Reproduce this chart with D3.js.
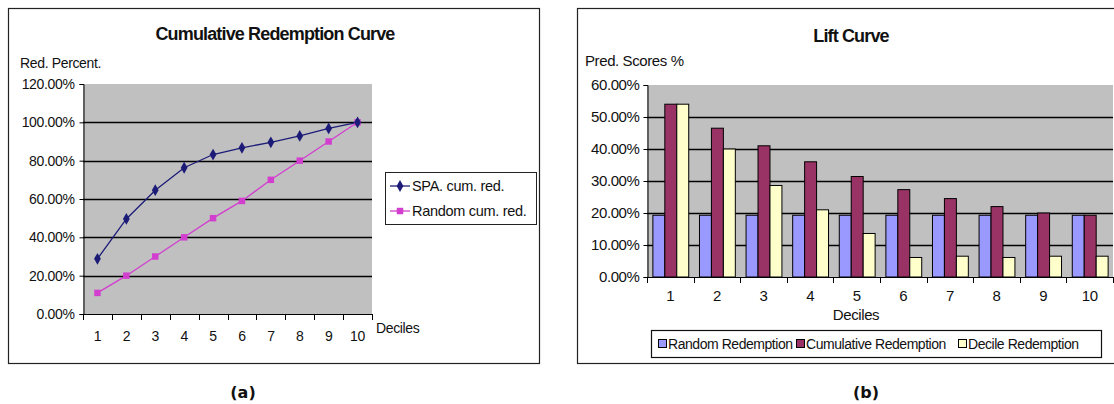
<!DOCTYPE html>
<html>
<head>
<meta charset="utf-8">
<script src="https://cdn.jsdelivr.net/npm/d3@7"></script>
<style>
  html, body { margin: 0; padding: 0; background: #fff; }
  svg { display: block; font-family: "Liberation Sans", Arial, sans-serif; }
  .lbl { font-size: 14px; fill: #111; letter-spacing: -0.35px; }
  .lblb { font-size: 15px; fill: #111; letter-spacing: -0.4px; }
  .leg { font-size: 14px; fill: #111; letter-spacing: -0.45px; }
  .lega { font-size: 14.5px; fill: #111; letter-spacing: -0.3px; }
  .ttl { font-size: 18px; font-weight: bold; fill: #111; letter-spacing: -0.85px; }
  .cap { font-size: 16px; font-weight: bold; fill: #111; font-family: "DejaVu Sans", sans-serif; }
</style>
</head>
<body>
<svg id="chart" width="1114" height="404"></svg>
<script>
// Deciles shared by both panels
const deciles = [1, 2, 3, 4, 5, 6, 7, 8, 9, 10];

// (a) Cumulative redemption, percent
const spaCum    = [28.8, 49.6, 64.6, 76.3, 83.2, 86.7, 89.6, 92.9, 96.8, 100];
const randomCum = [11, 20, 30, 40, 50, 59, 70, 80, 90, 100];
const cumTicks  = [0, 20, 40, 60, 80, 100, 120];

// (b) Lift curve, percent
const randomRedemption     = [19.3, 19.3, 19.3, 19.3, 19.3, 19.3, 19.3, 19.3, 19.3, 19.3];
const cumulativeRedemption = [54.0, 46.5, 41.0, 36.0, 31.4, 27.3, 24.5, 22.0, 20.0, 19.3];
const decileRedemption     = [54.0, 40.0, 28.6, 21.0, 13.6, 6.1, 6.5, 6.1, 6.5, 6.5];
const liftTicks = [0, 10, 20, 30, 40, 50, 60];
const liftSeries = ["Random Redemption", "Cumulative Redemption", "Decile Redemption"];

const svg = d3.select("#chart");
const pct = d => d3.format(".2f")(d) + "%";

// ---------- Panel (a) ----------
{
  const g = svg.append("g");
  g.append("rect").attr("x", 8.5).attr("y", 8.5).attr("width", 531).attr("height", 355)
    .attr("fill", "#fff").attr("stroke", "#222").attr("stroke-width", 1.2);

  const x = d3.scaleBand().domain(deciles).range([83, 372]);
  const y = d3.scaleLinear().domain([0, 120]).range([314, 84]);
  const cx = d => x(d) + x.bandwidth() / 2;

  g.append("rect").attr("x", 83).attr("y", 84).attr("width", 289).attr("height", 230)
    .attr("fill", "#c0c0c0");

  // gridlines
  g.selectAll(".grid").data(cumTicks.filter(t => t > 0 && t < 120)).join("line")
    .attr("x1", 83).attr("x2", 372).attr("y1", d => Math.round(y(d)) + 0.5).attr("y2", d => Math.round(y(d)) + 0.5)
    .attr("stroke", "#000").attr("stroke-width", 1.3);

  // y axis
  const ya = g.append("g").attr("transform", "translate(83.5,0)")
    .call(d3.axisLeft(y).tickValues(cumTicks).tickFormat(pct).tickSize(4).tickPadding(5));
  ya.select(".domain").attr("stroke", "#000");
  ya.selectAll("text").attr("class", "lbl").attr("font-family", null).attr("font-size", null);

  // x axis: boundary ticks and centred labels
  const xa = g.append("g").attr("transform", "translate(0,314.5)")
    .call(d3.axisBottom(x).tickSize(0).tickPadding(17));
  xa.select(".domain").attr("stroke", "#000").attr("d", "M83,0H372");
  xa.selectAll("text").attr("class", "lbl").attr("font-family", null).attr("font-size", null);
  const bounds = deciles.map(d => x(d)).concat([x(10) + x.bandwidth()]);
  g.selectAll(".xt").data(bounds).join("line")
    .attr("x1", d => Math.round(d) + 0.5).attr("x2", d => Math.round(d) + 0.5)
    .attr("y1", 314).attr("y2", 320).attr("stroke", "#000");

  const line = d3.line().x((d, i) => cx(deciles[i])).y(d => y(d));
  g.append("path").datum(randomCum).attr("d", line).attr("fill", "none")
    .attr("stroke", "#d23fcf").attr("stroke-width", 1.3);
  g.append("path").datum(spaCum).attr("d", line).attr("fill", "none")
    .attr("stroke", "#1c1c78").attr("stroke-width", 1.3);

  const sq = d3.symbol().type(d3.symbolSquare).size(42);
  const dm = d3.symbol().type(d3.symbolDiamond).size(40);
  g.selectAll(".rm").data(randomCum).join("path")
    .attr("transform", (d, i) => `translate(${cx(deciles[i])},${y(d)})`)
    .attr("d", sq).attr("fill", "#d23fcf");
  g.selectAll(".sm").data(spaCum).join("path")
    .attr("transform", (d, i) => `translate(${cx(deciles[i])},${y(d)})`)
    .attr("d", dm).attr("fill", "#1c1c78");

  g.append("text").attr("class", "ttl").attr("x", 275).attr("y", 40).attr("text-anchor", "middle")
    .text("Cumulative Redemption Curve");
  g.append("text").attr("class", "lbl").attr("x", 20).attr("y", 68).text("Red. Percent.");
  g.append("text").attr("class", "lbl").attr("x", 376).attr("y", 333).text("Deciles");

  // legend
  const lg = g.append("g");
  lg.append("rect").attr("x", 385.5).attr("y", 172.5).attr("width", 151).attr("height", 52)
    .attr("fill", "#fff").attr("stroke", "#222");
  [["SPA. cum. red.", "#1c1c78", dm, 186], ["Random cum. red.", "#d23fcf", sq, 211]].forEach(([t, c, s, yy]) => {
    lg.append("line").attr("x1", 390).attr("x2", 410).attr("y1", yy).attr("y2", yy).attr("stroke", c).attr("stroke-width", 1.3);
    lg.append("path").attr("transform", `translate(400,${yy})`).attr("d", s).attr("fill", c);
    lg.append("text").attr("class", "lega").attr("x", 412).attr("y", yy + 5).text(t);
  });

  svg.append("text").attr("class", "cap").attr("x", 243).attr("y", 398).attr("text-anchor", "middle").text("(a)");
}

// ---------- Panel (b) ----------
{
  const g = svg.append("g");
  g.append("rect").attr("x", 577.5).attr("y", 8.5).attr("width", 560).attr("height", 355)
    .attr("fill", "#fff").attr("stroke", "#222").attr("stroke-width", 1.2);

  const x = d3.scaleBand().domain(deciles).range([647, 1113]);
  const y = d3.scaleLinear().domain([0, 60]).range([277, 85]);
  const xs = d3.scaleBand().domain(liftSeries).range([0, x.bandwidth()]).paddingOuter(0.45).paddingInner(0);
  const colors = { "Random Redemption": "#9999ff", "Cumulative Redemption": "#993366", "Decile Redemption": "#ffffcc" };

  g.append("rect").attr("x", 647).attr("y", 85).attr("width", 466).attr("height", 192).attr("fill", "#c0c0c0");

  g.selectAll(".grid").data(liftTicks.filter(t => t > 0 && t < 60)).join("line")
    .attr("x1", 647).attr("x2", 1113).attr("y1", d => Math.round(y(d)) + 0.5).attr("y2", d => Math.round(y(d)) + 0.5)
    .attr("stroke", "#000").attr("stroke-width", 1.3);

  const rows = deciles.map((d, i) => ({
    decile: d,
    values: [randomRedemption[i], cumulativeRedemption[i], decileRedemption[i]]
  }));
  g.selectAll(".grp").data(rows).join("g")
    .attr("transform", d => `translate(${x(d.decile)},0)`)
    .selectAll("rect").data(d => d.values.map((v, k) => ({ s: liftSeries[k], v })))
    .join("rect")
    .attr("x", d => xs(d.s) + 0.5).attr("width", xs.bandwidth())
    .attr("y", d => y(d.v)).attr("height", d => y(0) - y(d.v))
    .attr("fill", d => colors[d.s]).attr("stroke", "#000").attr("stroke-width", 1);

  const ya = g.append("g").attr("transform", "translate(647.5,0)")
    .call(d3.axisLeft(y).tickValues(liftTicks).tickFormat(pct).tickSize(4).tickPadding(4));
  ya.select(".domain").attr("stroke", "#000");
  ya.selectAll("text").attr("class", "lblb").attr("font-family", null).attr("font-size", null);

  const xa = g.append("g").attr("transform", "translate(0,277.5)")
    .call(d3.axisBottom(x).tickSize(0).tickPadding(13));
  xa.select(".domain").attr("stroke", "#000").attr("d", "M647,0H1113");
  xa.selectAll("text").attr("class", "lblb").attr("font-family", null).attr("font-size", null);
  const bounds = deciles.map(d => x(d)).concat([x(10) + x.bandwidth()]);
  g.selectAll(".xt").data(bounds).join("line")
    .attr("x1", d => Math.round(d) + 0.5).attr("x2", d => Math.round(d) + 0.5)
    .attr("y1", 277).attr("y2", 283).attr("stroke", "#000");

  g.append("text").attr("class", "ttl").attr("x", 851).attr("y", 42).attr("text-anchor", "middle").text("Lift Curve");
  g.append("text").attr("class", "lblb").attr("x", 856).attr("y", 320).attr("text-anchor", "middle").text("Deciles");
  g.append("text").attr("class", "lblb").attr("x", 585).attr("y", 66).text("Pred. Scores %");

  // legend
  const lg = g.append("g");
  lg.append("rect").attr("x", 651.5).attr("y", 330.5).attr("width", 450).attr("height", 27)
    .attr("fill", "#fff").attr("stroke", "#111").attr("stroke-width", 1.2);
  const lx = [658, 796, 958];
  liftSeries.forEach((s, k) => {
    lg.append("rect").attr("x", lx[k] + 0.5).attr("y", 339.5).attr("width", 8).attr("height", 8)
      .attr("fill", colors[s]).attr("stroke", "#000");
    lg.append("text").attr("class", "leg").attr("x", lx[k] + 10).attr("y", 349).text(s);
  });

  svg.append("text").attr("class", "cap").attr("x", 866).attr("y", 398).attr("text-anchor", "middle").text("(b)");
}
</script>
</body>
</html>
